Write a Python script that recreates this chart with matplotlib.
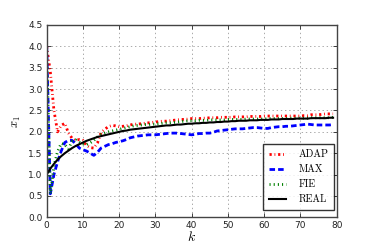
import matplotlib
matplotlib.use("Agg")
import matplotlib.pyplot as plt
import numpy as np

k = list(range(80))

adap = [4.00, 3.40, 2.50, 2.00, 2.15, 2.20, 1.97, 1.85, 1.80, 1.82, 1.80, 1.68, 1.63, 1.62, 1.74,
        1.98, 2.06, 2.12, 2.15, 2.14, 2.12, 2.13, 2.14, 2.16, 2.18, 2.18, 2.19, 2.20, 2.21, 2.22,
        2.23, 2.24, 2.25, 2.25, 2.26, 2.27, 2.28, 2.29, 2.29, 2.30, 2.31, 2.31, 2.31, 2.32, 2.32,
        2.33, 2.33, 2.33, 2.34, 2.34, 2.34, 2.34, 2.35, 2.35, 2.35, 2.35, 2.36, 2.36, 2.36, 2.36,
        2.37, 2.37, 2.37, 2.37, 2.37, 2.37, 2.37, 2.37, 2.37, 2.37, 2.37, 2.38, 2.38, 2.40, 2.40,
        2.40, 2.41, 2.42, 2.42, 2.42]

maxv = [4.00, 0.55, 1.00, 1.30, 1.55, 1.75, 1.80, 1.80, 1.72, 1.62, 1.58, 1.55, 1.50, 1.45, 1.52,
        1.62, 1.66, 1.70, 1.72, 1.75, 1.77, 1.79, 1.82, 1.86, 1.88, 1.90, 1.91, 1.92, 1.93, 1.93,
        1.93, 1.94, 1.95, 1.96, 1.97, 1.97, 1.97, 1.96, 1.95, 1.94, 1.93, 1.94, 1.96, 1.96, 1.97,
        1.97, 1.99, 2.02, 2.03, 2.04, 2.05, 2.06, 2.07, 2.07, 2.07, 2.08, 2.09, 2.10, 2.10, 2.09,
        2.08, 2.08, 2.10, 2.11, 2.12, 2.12, 2.13, 2.13, 2.14, 2.15, 2.16, 2.17, 2.18, 2.17, 2.16,
        2.16, 2.16, 2.16, 2.16, 2.17]

fie = [3.90, 0.55, 1.20, 1.54, 1.73, 1.70, 1.60, 1.78, 1.81, 1.76, 1.72, 1.70, 1.74, 1.80, 1.88,
       1.94, 1.97, 2.00, 2.02, 2.04, 2.06, 2.08, 2.10, 2.12, 2.14, 2.15, 2.16, 2.17, 2.17, 2.18,
       2.18, 2.19, 2.20, 2.21, 2.21, 2.22, 2.23, 2.24, 2.25, 2.26, 2.26, 2.26, 2.27, 2.27, 2.27,
       2.28, 2.28, 2.28, 2.28, 2.28, 2.29, 2.29, 2.29, 2.29, 2.29, 2.30, 2.30, 2.30, 2.30, 2.30,
       2.30, 2.31, 2.31, 2.31, 2.31, 2.31, 2.31, 2.32, 2.32, 2.32, 2.32, 2.32, 2.32, 2.33, 2.33,
       2.33, 2.33, 2.33, 2.33, 2.34]

real = [1.00, 1.14, 1.25, 1.35, 1.43, 1.50, 1.56, 1.62, 1.67, 1.71, 1.75, 1.79, 1.82, 1.85, 1.88,
        1.90, 1.92, 1.94, 1.96, 1.98, 2.00, 2.02, 2.03, 2.05, 2.06, 2.07, 2.08, 2.09, 2.10, 2.11,
        2.12, 2.13, 2.14, 2.15, 2.15, 2.16, 2.17, 2.17, 2.18, 2.19, 2.19, 2.20, 2.20, 2.21, 2.21,
        2.22, 2.22, 2.23, 2.23, 2.24, 2.24, 2.25, 2.25, 2.26, 2.26, 2.26, 2.27, 2.27, 2.27, 2.28,
        2.28, 2.28, 2.29, 2.29, 2.29, 2.30, 2.30, 2.30, 2.30, 2.31, 2.31, 2.31, 2.31, 2.32, 2.32,
        2.32, 2.32, 2.32, 2.33, 2.33]

labels = ["ADAP", "MAX", "FIE", "REAL"]
xticks = [0, 10, 20, 30, 40, 50, 60, 70, 80]
yticks = [0.0, 0.5, 1.0, 1.5, 2.0, 2.5, 3.0, 3.5, 4.0, 4.5]

plt.rcParams['lines.scale_dashes'] = False
plt.rcParams['mathtext.fontset'] = 'cm'

fig = plt.figure(figsize=(3.74, 2.49), dpi=100)
ax = fig.add_axes([46.7 / 374, 1 - 217.3 / 249, 290 / 374, 192.3 / 249])

ax.plot(k, adap, color='red', lw=2.0, dashes=(1.6, 2.0, 0.6, 2.0), label=labels[0])
ax.plot(k, maxv, color='blue', lw=2.0, dashes=(4.0, 2.2), label=labels[1])
ax.plot(k, fie, color='green', lw=2.0, dashes=(0.8, 2.2), label=labels[2])
ax.plot(k, real, color='black', lw=1.5, label=labels[3])

ax.set_xlim(0, 80)
ax.set_ylim(0, 4.5)
ax.set_xticks(xticks)
ax.set_yticks(yticks)
ax.set_yticklabels([f"{v:.1f}" for v in yticks])
ax.tick_params(direction='in', length=3, width=0.6, labelsize=6.5, pad=3,
               top=True, right=True, colors='#222222')
ax.grid(True, color='#aaaaaa', linestyle=(0, (1, 2)), linewidth=0.7)
for s in ax.spines.values():
    s.set_linewidth(1.0)
    s.set_color('#444444')

ax.set_xlabel('$k$', fontsize=10, labelpad=0)
ax.set_ylabel('$x_1$', fontsize=9, labelpad=4)

leg = ax.legend(loc='lower right', bbox_to_anchor=(0.9907, 0.038),
                prop={'family': 'cmr10', 'size': 7.3},
                frameon=True, fancybox=False, handlelength=1.75, handletextpad=1.2,
                labelspacing=0.55, borderpad=0.55, borderaxespad=0.0)
leg.get_frame().set_edgecolor('black')
leg.get_frame().set_linewidth(1.0)

fig.savefig('out.png', dpi=100, facecolor='white')
